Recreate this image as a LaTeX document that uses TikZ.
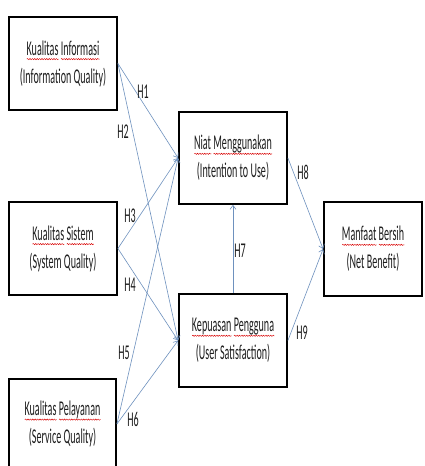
\documentclass[tikz,border=0pt]{standalone}
\usepackage{fontspec}
\setmainfont{Carlito}
\newfontfamily\nfont[FakeStretch=0.48]{Carlito}
\usetikzlibrary{arrows.meta,decorations.pathmorphing}
\definecolor{arrowblue}{RGB}{110,145,190}
\definecolor{txtgray}{RGB}{30,30,30}
\newlength\sqlen
\newcommand\sq[1]{\settowidth\sqlen{#1}\leavevmode\rlap{\raisebox{-4pt}{\tikz[baseline=0pt]\draw[red!85!black,line width=0.45pt,decorate,decoration={snake,amplitude=0.6pt,segment length=2.4pt}] (0pt,0pt)--(\sqlen,0pt);}}#1}
\tikzset{
  box/.style={draw=black,line width=1.8pt,fill=white,align=center,inner sep=0pt,
    font=\nfont\fontsize{21}{28}\selectfont,text=txtgray},
  conn/.style={draw=arrowblue,line width=0.6pt,-{Straight Barb[length=4pt,width=6pt]}},
  lbl/.style={font=\nfont\fontsize{21}{24}\selectfont,text=txtgray,inner sep=0pt}
}
\begin{document}
\begin{tikzpicture}[x=1pt,y=-1pt]
\useasboundingbox (0,0) rectangle (425,466);
\fill[white] (0,0) rectangle (425,466);
\node[box,minimum width=108pt,minimum height=93pt] (info) at (63,63.5) {\sq{Kualitas} \sq{Informasi}\\(Information Quality)};
\node[box,minimum width=108pt,minimum height=93pt] (sys) at (63,248.5) {\sq{Kualitas} \sq{Sistem}\\(System Quality)};
\node[box,minimum width=107pt,minimum height=90pt] (serv) at (62.5,424) {\sq{Kualitas} \sq{Pelayanan}\\(Service Quality)};
\node[box,minimum width=108pt,minimum height=92pt] (niat) at (233,158) {\sq{Niat} \sq{Menggunakan}\\(Intention to Use)};
\node[box,minimum width=108pt,minimum height=93pt] (kep) at (233,340.5) {\sq{Kepuasan} \sq{Pengguna}\\(User Satisfaction)};
\node[box,minimum width=98pt,minimum height=94pt] (manf) at (373,249) {\sq{Manfaat} \sq{Bersih}\\(Net Benefit)};

\draw[conn] (info.east) -- (niat.west);
\draw[conn] (info.east) -- (kep.west);
\draw[conn] (sys.east) -- (niat.west);
\draw[conn] (sys.east) -- (kep.west);
\draw[conn] (serv.east) -- (niat.west);
\draw[conn] (serv.east) -- (kep.west);
\draw[conn] (kep.north) -- (niat.south);
\draw[conn] (niat.east) -- (manf.west);
\draw[conn] (kep.east) -- (manf.west);

\node[lbl] (h1) at (143,92) {H1};
\node[lbl] (h2) at (123,132) {H2};
\node[lbl] (h3) at (130,216) {H3};
\node[lbl] (h4) at (130,285) {H4};
\node[lbl] (h5) at (124,353) {H5};
\node[lbl] (h6) at (133,419) {H6};
\node[lbl] (h7) at (240,251) {H7};
\node[lbl] (h8) at (303,172) {H8};
\node[lbl] (h9) at (302,333) {H9};
\end{tikzpicture}
\end{document}
